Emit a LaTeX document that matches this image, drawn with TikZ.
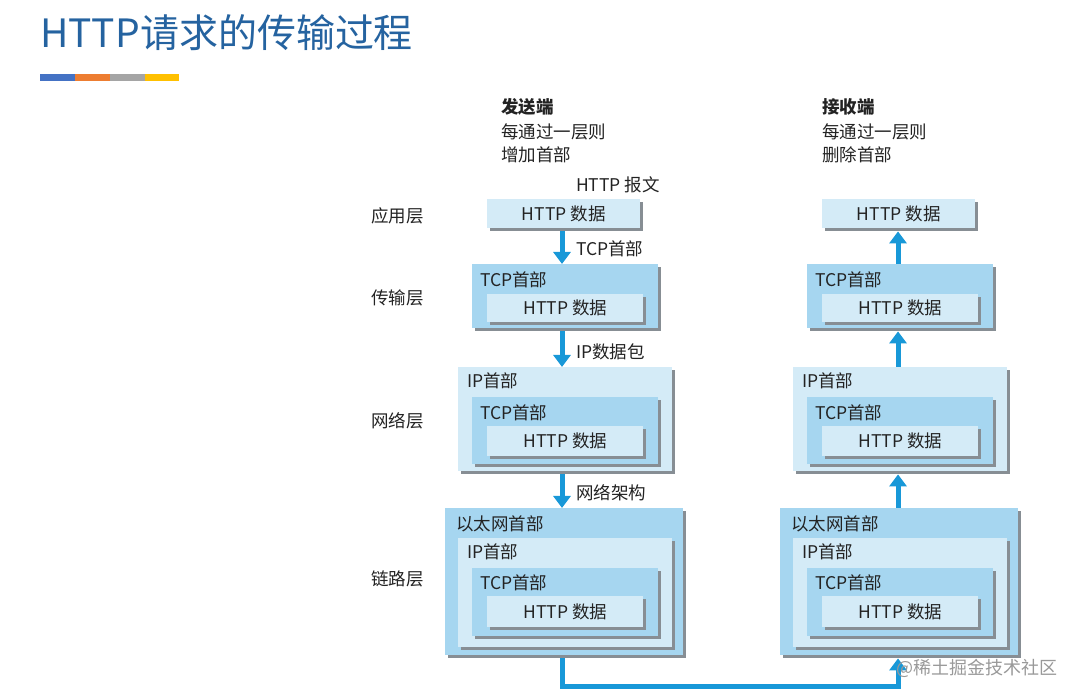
\documentclass[tikz,border=0pt]{standalone}
\usepackage{fontspec}
\setmainfont{Noto Sans CJK SC}
\usetikzlibrary{arrows.meta,shadows,calc}
\definecolor{titleblue}{RGB}{37,99,160}
\definecolor{lightfill}{RGB}{212,235,247}
\definecolor{midfill}{RGB}{166,214,240}
\definecolor{flowblue}{RGB}{24,152,216}
\definecolor{shadowgray}{RGB}{135,142,148}
\definecolor{txt}{RGB}{35,35,35}
\definecolor{barblue}{RGB}{68,114,196}
\definecolor{barorange}{RGB}{237,125,49}
\definecolor{bargray}{RGB}{165,165,165}
\definecolor{baryellow}{RGB}{255,192,0}
\tikzset{
  pkt/.style={anchor=north west, inner sep=0pt, draw=none,
    drop shadow={shadow xshift=3pt, shadow yshift=-3pt, fill=shadowgray, opacity=1}},
  lightbox/.style={pkt, fill=lightfill},
  midbox/.style={pkt, fill=midfill},
  lbl/.style={anchor=west, inner sep=0pt, text=txt, font=\fontsize{17.5}{20}\selectfont},
  boxtxt/.style={inner sep=0pt, text=txt, font=\fontsize{17.5}{20}\selectfont},
  flow/.style={draw=flowblue, line width=5pt, -{Triangle[width=17pt,length=12pt]}},
}
\newcommand{\pbox}[7]{% style, name, x1, y1, x2, y2, text
  \node[#1, minimum width={#5-#3}, minimum height={#6-#4}] (#2) at (#3,#4) {};
}
\begin{document}
\begin{tikzpicture}[x=1pt,y=-1pt]
\useasboundingbox (0,0) rectangle (1077,700);
\fill[white] (0,0) rectangle (1077,700);
% title
\node[anchor=base west, inner sep=0pt, text=titleblue, font=\fontsize{39}{42}\selectfont] (title) at (40,48) {HTTP请求的传输过程};
\fill[barblue] (40,74) rectangle (75,81);
\fill[barorange] (75,74) rectangle (110,81);
\fill[bargray] (110,74) rectangle (145,81);
\fill[baryellow] (145,74) rectangle (179,81);
% headers
\node[lbl, font=\fontsize{17.5}{20}\selectfont\bfseries] (sh1) at (501,107) {发送端};
\node[lbl, font=\fontsize{17.5}{20}\selectfont] (sh2) at (501,132) {每通过一层则};
\node[lbl, font=\fontsize{17.5}{20}\selectfont] (sh3) at (501,155) {增加首部};
\node[lbl, font=\fontsize{17.5}{20}\selectfont\bfseries] (rh1) at (822,107) {接收端};
\node[lbl, font=\fontsize{17.5}{20}\selectfont] (rh2) at (822,132) {每通过一层则};
\node[lbl, font=\fontsize{17.5}{20}\selectfont] (rh3) at (822,155) {删除首部};
% layer labels
\node[lbl] (l1) at (371,216) {应用层};
\node[lbl] (l2) at (371,298) {传输层};
\node[lbl] (l3) at (371,421) {网络层};
\node[lbl] (l4) at (371,579) {链路层};
\node[lbl] (msg) at (576,185) {HTTP 报文};
% ---------- sender ----------
\pbox{lightbox}{sA}{487}{199}{640}{228}{}
\node[boxtxt] (sAt) at (sA.center) {HTTP 数据};
\pbox{midbox}{sT}{472}{264}{658}{328}{}
\node[lbl] (sTl) at (480,280) {TCP首部};
\pbox{lightbox}{sTh}{487}{294}{643}{322}{}
\node[boxtxt] (sTht) at (sTh.center) {HTTP 数据};
\pbox{lightbox}{sN}{458}{367}{672}{471}{}
\node[lbl] (sNl) at (467,381) {IP首部};
\pbox{midbox}{sNt}{472}{397}{658}{464}{}
\node[lbl] (sNtl) at (480,413) {TCP首部};
\pbox{lightbox}{sNh}{487}{426}{643}{456}{}
\node[boxtxt] (sNht) at (sNh.center) {HTTP 数据};
\pbox{midbox}{sL}{445}{508}{683}{655}{}
\node[lbl] (sLl) at (456,524) {以太网首部};
\pbox{lightbox}{sLi}{458}{538}{672}{647}{}
\node[lbl] (sLil) at (467,552) {IP首部};
\pbox{midbox}{sLt}{472}{568}{658}{636}{}
\node[lbl] (sLtl) at (480,583) {TCP首部};
\pbox{lightbox}{sLh}{487}{596}{643}{627}{}
\node[boxtxt] (sLht) at (sLh.center) {HTTP 数据};
% ---------- receiver ----------
\pbox{lightbox}{rA}{822}{199}{975}{228}{}
\node[boxtxt] (rAt) at (rA.center) {HTTP 数据};
\pbox{midbox}{rT}{807}{264}{993}{328}{}
\node[lbl] (rTl) at (815,280) {TCP首部};
\pbox{lightbox}{rTh}{822}{294}{978}{322}{}
\node[boxtxt] (rTht) at (rTh.center) {HTTP 数据};
\pbox{lightbox}{rN}{793}{367}{1007}{471}{}
\node[lbl] (rNl) at (802,381) {IP首部};
\pbox{midbox}{rNt}{807}{397}{993}{464}{}
\node[lbl] (rNtl) at (815,413) {TCP首部};
\pbox{lightbox}{rNh}{822}{426}{978}{456}{}
\node[boxtxt] (rNht) at (rNh.center) {HTTP 数据};
\pbox{midbox}{rL}{780}{508}{1018}{655}{}
\node[lbl] (rLl) at (791,524) {以太网首部};
\pbox{lightbox}{rLi}{793}{538}{1007}{647}{}
\node[lbl] (rLil) at (802,552) {IP首部};
\pbox{midbox}{rLt}{807}{568}{993}{636}{}
\node[lbl] (rLtl) at (815,583) {TCP首部};
\pbox{lightbox}{rLh}{822}{596}{978}{627}{}
\node[boxtxt] (rLht) at (rLh.center) {HTTP 数据};
% ---------- sender arrows ----------
\coordinate (sx) at (562,0);
\draw[flow] (sA.south -| sx) ++(0,3) -- (sT.north -| sx);
\node[lbl] (a1) at (576,249) {TCP首部};
\draw[flow] (sT.south -| sx) ++(0,3) -- (sN.north -| sx);
\node[lbl] (a2) at (576,352) {IP数据包};
\draw[flow] (sN.south -| sx) ++(0,3) -- (sL.north -| sx);
\node[lbl] (a3) at (576,493) {网络架构};
% ---------- receiver arrows ----------
\coordinate (rx) at (898,0);
\draw[flow] (rT.north -| rx) -- ($(rA.south -| rx)+(0,3)$);
\draw[flow] (rN.north -| rx) -- ($(rT.south -| rx)+(0,3)$);
\draw[flow] (rL.north -| rx) -- ($(rN.south -| rx)+(0,3)$);
% ---------- link ----------
\coordinate (bot) at (0,686);
\draw[flow] ($(sL.south -| sx)+(0,3)$) -- (sx |- bot) -- (rx |- bot) -- ($(rL.south -| rx)+(0,3)$);
% watermark
\node[anchor=west, inner sep=0pt, text=black!40, font=\fontsize{18}{20}\selectfont] (wm) at (896,668) {@稀土掘金技术社区};
\end{tikzpicture}
\end{document}
